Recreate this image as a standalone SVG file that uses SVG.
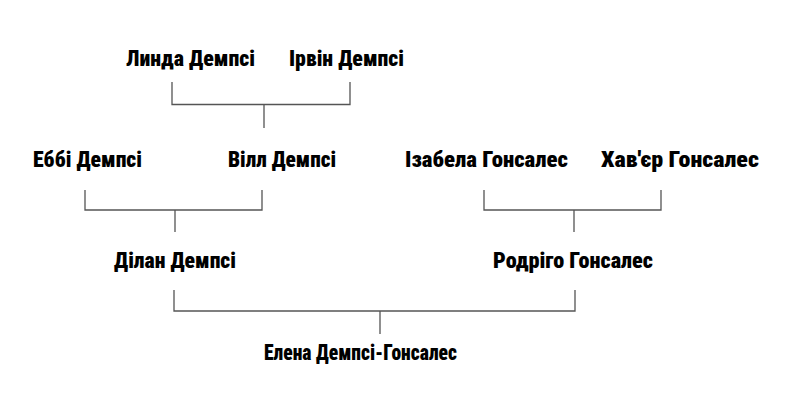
<svg xmlns="http://www.w3.org/2000/svg" width="800" height="403" viewBox="0 0 800 403">
<style>
text{font-family:"Roboto Condensed","DejaVu Sans Condensed",Roboto,sans-serif;font-weight:900;font-size:22px;fill:#000;text-anchor:start}
.c{fill:none;stroke:#555;stroke-width:1.3}
</style>
<rect width="800" height="403" fill="#fff"/>
<g id="connectors">
<path class="c" d="M172 82V104.5H350V82M264 104.5V128"/>
<path class="c" d="M85 190V210H262V190M175 210V232"/>
<path class="c" d="M484 190V210H661V190M574 210V232"/>
<path class="c" d="M174 290V311H575V290M380 311V334"/>
</g>
<g id="linda"><text x="126" y="65.5" textLength="129" lengthAdjust="spacingAndGlyphs">Линда Демпсі</text></g>
<g id="irvin"><text x="289" y="65.5" textLength="115" lengthAdjust="spacingAndGlyphs">Ірвін Демпсі</text></g>
<g id="ebbi"><text x="33" y="166.5" textLength="109" lengthAdjust="spacingAndGlyphs">Еббі Демпсі</text></g>
<g id="vill"><text x="228" y="166.5" textLength="108" lengthAdjust="spacingAndGlyphs">Вілл Демпсі</text></g>
<g id="izabela"><text x="405" y="166.5" textLength="163" lengthAdjust="spacingAndGlyphs">Ізабела Гонсалес</text></g>
<g id="khavier"><text x="601" y="166.5" textLength="158" lengthAdjust="spacingAndGlyphs">Хав'єр Гонсалес</text></g>
<g id="dilan"><text x="114" y="267.5" textLength="122" lengthAdjust="spacingAndGlyphs">Ділан Демпсі</text></g>
<g id="rodrigo"><text x="493" y="267.5" textLength="160" lengthAdjust="spacingAndGlyphs">Родріго Гонсалес</text></g>
<g id="elena"><text x="264" y="359.5" textLength="193" lengthAdjust="spacingAndGlyphs">Елена Демпсі-Гонсалес</text></g>
</svg>
